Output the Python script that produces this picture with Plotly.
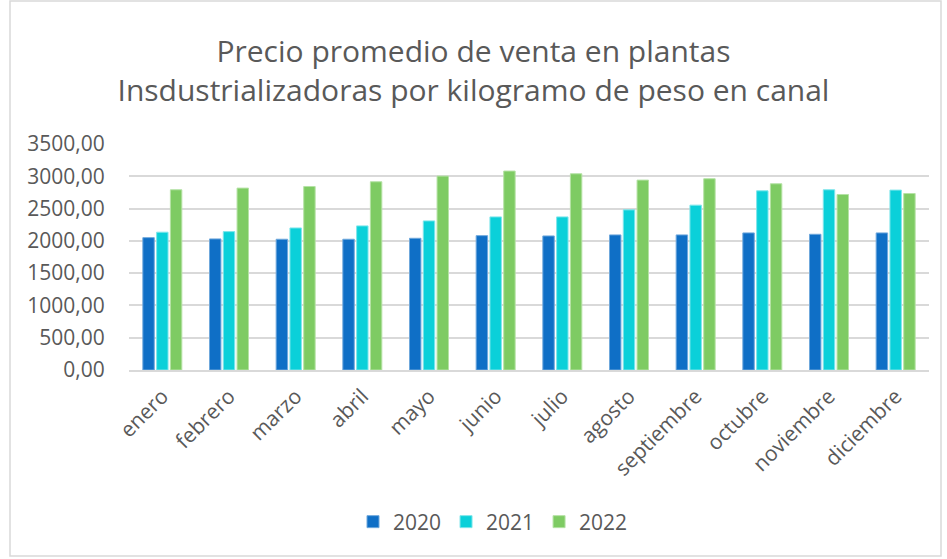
import plotly.graph_objects as go

months = ["enero", "febrero", "marzo", "abril", "mayo", "junio", "julio",
          "agosto", "septiembre", "octubre", "noviembre", "diciembre"]
v2020 = [2050, 2030, 2025, 2025, 2040, 2081, 2076, 2092, 2092, 2123, 2102, 2123]
v2021 = [2134, 2143, 2200, 2232, 2309, 2371, 2371, 2480, 2553, 2775, 2791, 2786]
v2022 = [2791, 2817, 2842, 2915, 3003, 3081, 3039, 2941, 2962, 2884, 2718, 2733]
series_names = ["2020", "2021", "2022"]
colors = ["#0F6FC6", "#0BD0D9", "#7ECB63"]
edge_colors = ["#6FA8DC", "#7FE6EB", "#B5E2A5"]
yticks = [0, 500, 1000, 1500, 2000, 2500, 3000, 3500]

W, H = 947, 559
L, R, T, B = 129, 18, 144, 189

fig = go.Figure()
for name, vals, c, ec in zip(series_names, [v2020, v2021, v2022], colors, edge_colors):
    fig.add_trace(go.Bar(x=months, y=vals, name=name,
                         marker=dict(color=c, line=dict(color=ec, width=1))))

font = "Open Sans, Liberation Sans, sans-serif"
fig.update_layout(
    width=W, height=H,
    margin=dict(l=L, r=R, t=T, b=B),
    paper_bgcolor="white", plot_bgcolor="white",
    separators=",.",
    barmode="group", bargap=0.38, bargroupgap=0.17,
    title=dict(text="Precio promedio de venta en plantas<br>Insdustrializadoras por kilogramo de peso en canal",
               x=0.5, xanchor="center", y=1 - 62 / H, yanchor="middle",
               font=dict(family=font, size=30, color="#595959")),
    font=dict(family=font, size=21, color="#595959"),
    showlegend=True,
    legend=dict(orientation="h", x=0.455, xanchor="center", y=-(522 - (H - B)) / (H - T - B),
                yanchor="middle", font=dict(size=21, color="#595959"),
                itemwidth=30, tracegroupgap=0),
    xaxis=dict(tickangle=-45, showline=True, linecolor="#D9D9D9", linewidth=1.5,
               ticks="outside", ticklen=4, tickcolor="rgba(0,0,0,0)",
               tickfont=dict(size=21, color="#595959")),
    yaxis=dict(range=[0, 3500], tickvals=yticks, tickformat=".2f",
               showgrid=True, gridcolor="#D9D9D9", gridwidth=1.5,
               zeroline=False, showline=False,
               ticks="outside", ticklen=19, tickcolor="rgba(0,0,0,0)",
               tickfont=dict(size=21, color="#595959")),
)
fig.add_shape(type="rect", xref="paper", yref="paper",
              x0=-(L - 10) / (W - L - R), x1=1 + (R - 6) / (W - L - R),
              y0=-(B - 3) / (H - T - B), y1=1 + (T - 1) / (H - T - B),
              line=dict(color="#D9D9D9", width=1.5))
fig.write_html("out.html", config={"displayModeBar": False},
               post_script="document.body.style.margin='0';")
